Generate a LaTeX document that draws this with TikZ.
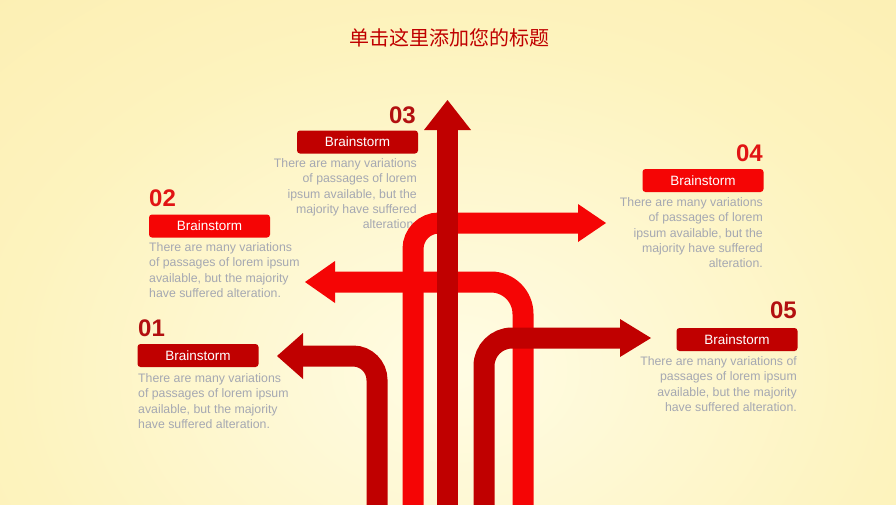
\documentclass[tikz,border=0pt]{standalone}
\usepackage{fontspec}
\setmainfont{Liberation Sans}
\newfontfamily\cjk{Noto Sans CJK SC}
\definecolor{bgin}{RGB}{255,252,228}
\definecolor{bgmid}{RGB}{253,243,190}
\definecolor{bgout}{RGB}{250,228,148}
\definecolor{darkr}{RGB}{192,0,0}
\definecolor{brightr}{RGB}{245,5,5}
\definecolor{numdark}{RGB}{178,16,16}
\definecolor{numbright}{RGB}{225,20,20}
\definecolor{desc}{RGB}{165,168,178}
\pgfdeclareradialshading{bgshade}{\pgfpoint{0bp}{0bp}}{color(0bp)=(bgin); color(16bp)=(bgmid); color(50bp)=(bgout)}
\tikzset{
  arrowline/.style={line width=21pt},
  numtxt/.style={inner sep=0pt, font=\fontsize{24}{24}\selectfont\bfseries},
  boxlbl/.style={rounded corners=3pt, minimum width=121pt, minimum height=23pt, inner sep=0pt, text=white, font=\fontsize{13.5}{14}\selectfont},
  desctxt/.style={inner sep=0pt, text=desc, font=\fontsize{12.3}{15.2}\selectfont}
}
\begin{document}
\begin{tikzpicture}[x=1pt,y=-1pt]
\useasboundingbox (0,0) rectangle (896,504);
\clip (0,0) rectangle (896,504);
\fill[bgout] (0,0) rectangle (896,504);
\shade[shading=bgshade] (455,370) ellipse [x radius=700, y radius=520];

% title
\node[inner sep=0pt, text=darkr, font=\cjk\fontsize{20}{20}\selectfont] (title) at (449,38) {单击这里添加您的标题};

% texts
\node[numtxt, text=numdark, anchor=base east] (n3) at (416,123) {03};
\node[boxlbl, fill=darkr] (b3) at (357.5,142) {Brainstorm};
\node[desctxt, anchor=north east, align=right] (d3) at (417,158.5) {There are many variations\\of passages of lorem\\ipsum available, but the\\majority have suffered\\alteration.};

\node[numtxt, text=numbright, anchor=base west] (n2) at (149,206) {02};
\node[boxlbl, fill=brightr] (b2) at (209.5,226) {Brainstorm};
\node[desctxt, anchor=north west, align=left] (d2) at (149,242.5) {There are many variations\\of passages of lorem ipsum\\available, but the majority\\have suffered alteration.};

\node[numtxt, text=numdark, anchor=base west] (n1) at (138,336) {01};
\node[boxlbl, fill=darkr] (b1) at (198,355.5) {Brainstorm};
\node[desctxt, anchor=north west, align=left] (d1) at (138,373.5) {There are many variations\\of passages of lorem ipsum\\available, but the majority\\have suffered alteration.};

\node[numtxt, text=numbright, anchor=base east] (n4) at (763,161) {04};
\node[boxlbl, fill=brightr] (b4) at (703,180.5) {Brainstorm};
\node[desctxt, anchor=north east, align=right] (d4) at (763,197.5) {There are many variations\\of passages of lorem\\ipsum available, but the\\majority have suffered\\alteration.};

\node[numtxt, text=numdark, anchor=base east] (n5) at (797,318) {05};
\node[boxlbl, fill=darkr] (b5) at (737,339.5) {Brainstorm};
\node[desctxt, anchor=north east, align=right] (d5) at (797,356.5) {There are many variations of\\passages of lorem ipsum\\available, but the majority\\have suffered alteration.};

% arrow 04 (bright, right, upper)
\coordinate (a4s) at (413,515); \coordinate (a4c) at (413,223); \coordinate (a4e) at (580,223);
\draw[arrowline, brightr, rounded corners=26pt] (a4s) -- (a4c) -- (a4e);
\fill[brightr] (578,204) -- (606,223) -- (578,242) -- cycle;

% arrow 02 (bright, left)
\coordinate (a2s) at (523,515); \coordinate (a2c) at (523,282); \coordinate (a2e) at (333,282);
\draw[arrowline, brightr, rounded corners=32pt] (a2s) -- (a2c) -- (a2e);
\fill[brightr] (335,261) -- (305,282) -- (335,303) -- cycle;

% arrow 03 (dark, up)
\coordinate (a3s) at (447.5,515); \coordinate (a3e) at (447.5,128);
\draw[arrowline, darkr] (a3s) -- (a3e);
\fill[darkr] (424,130) -- (447.5,100) -- (471,130) -- cycle;

% arrow 05 (dark, right, lower)
\coordinate (a5s) at (484,515); \coordinate (a5c) at (484,338); \coordinate (a5e) at (622,338);
\draw[arrowline, darkr, rounded corners=28pt] (a5s) -- (a5c) -- (a5e);
\fill[darkr] (620,319) -- (651,338) -- (620,357) -- cycle;

% arrow 01 (dark, left)
\coordinate (a1s) at (377,515); \coordinate (a1c) at (377,356); \coordinate (a1e) at (301,356);
\draw[arrowline, darkr, rounded corners=24pt] (a1s) -- (a1c) -- (a1e);
\fill[darkr] (303,333) -- (277,356) -- (303,379) -- cycle;
\end{tikzpicture}
\end{document}
